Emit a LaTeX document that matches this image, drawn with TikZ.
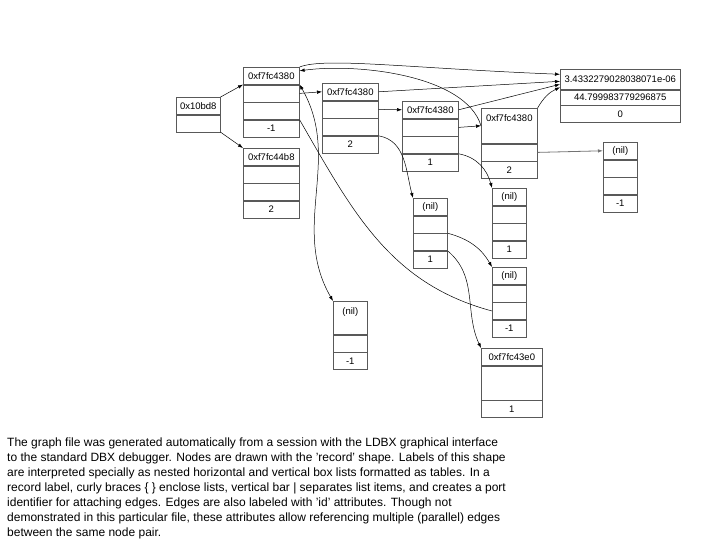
\documentclass[tikz,border=0pt]{standalone}
\usepackage{fontspec}
\setmainfont{Liberation Sans}
\usetikzlibrary{arrows.meta,positioning}

\begin{document}
\begin{tikzpicture}[
  x=1pt, y=-1pt,
  node distance=0pt,
  >={Latex[length=5pt,width=3.5pt]},
  cell/.style={draw=black!65, line width=0.6pt, inner sep=0pt, minimum height=17pt, font=\fontsize{9.5}{10}\selectfont},
  ptr/.style={cell, minimum width=56pt},
  nilc/.style={cell, minimum width=34pt},
  valc/.style={cell, minimum width=120pt},
  tall/.style={minimum height=#1, text height=12pt, text depth=#1-14pt},
  arrow/.style={->, line width=0.5pt},
  twoway/.style={<->, line width=0.5pt},
  link/.style={line width=0.5pt}
]
\useasboundingbox (0,0) rectangle (720,540);

% records
\node[cell, minimum width=44pt, anchor=north west] (a1) at (176,97) {0x10bd8};
\node[cell, minimum width=44pt, below=of a1] (a2) {};

\node[ptr, anchor=north west] (b1) at (243,67) {0xf7fc4380};
\node[ptr, below=of b1] (b2) {};
\node[ptr, below=of b2] (b3) {};
\node[ptr, below=of b3] (b4) {-1};

\node[ptr, anchor=north west] (c1) at (243,148) {0xf7fc44b8};
\node[ptr, below=of c1] (c2) {};
\node[ptr, below=of c2] (c3) {};
\node[ptr, below=of c3] (c4) {2};

\node[ptr, anchor=north west] (d1) at (322,83) {0xf7fc4380};
\node[ptr, below=of d1] (d2) {};
\node[ptr, below=of d2] (d3) {};
\node[ptr, below=of d3] (d4) {2};

\node[ptr, anchor=north west] (e1) at (402,101) {0xf7fc4380};
\node[ptr, below=of e1] (e2) {};
\node[ptr, below=of e2] (e3) {};
\node[ptr, below=of e3] (e4) {1};

\node[ptr, tall=35pt, anchor=north west] (f1) at (481,108) {0xf7fc4380};
\node[ptr, below=of f1] (f2) {};
\node[ptr, below=of f2] (f3) {2};

\node[valc, minimum height=20pt, anchor=north west] (g1) at (560,69) {3.4332279028038071e-06};
\node[valc, minimum height=15pt, below=of g1] (g2) {44.799983779296875};
\node[valc, below=of g2] (g3) {0};

\node[nilc, anchor=north west] (h1) at (603,142) {(nil)};
\node[nilc, below=of h1] (h2) {};
\node[nilc, below=of h2] (h3) {};
\node[nilc, below=of h3] (h4) {-1};

\node[nilc, anchor=north west] (i1) at (413,198) {(nil)};
\node[nilc, below=of i1] (i2) {};
\node[nilc, below=of i2] (i3) {};
\node[nilc, below=of i3] (i4) {1};

\node[nilc, anchor=north west] (j1) at (492,188) {(nil)};
\node[nilc, below=of j1] (j2) {};
\node[nilc, below=of j2] (j3) {};
\node[nilc, below=of j3] (j4) {1};

\node[nilc, anchor=north west] (k1) at (492,267) {(nil)};
\node[nilc, below=of k1] (k2) {};
\node[nilc, below=of k2] (k3) {};
\node[nilc, below=of k3] (k4) {-1};

\node[cell, minimum width=61pt, anchor=north west] (l1) at (481,348) {0xf7fc43e0};
\node[cell, minimum width=61pt, minimum height=34pt, below=of l1] (l2) {};
\node[cell, minimum width=61pt, below=of l2] (l3) {1};

\node[nilc, tall=33pt, anchor=north west] (m1) at (333,301) {(nil)};
\node[nilc, below=of m1] (m2) {};
\node[nilc, below=of m2] (m3) {-1};

% edges
\draw[arrow] (a1.north east) -- (b1.south west);
\draw[arrow] (a2.south east) -- (c1.north west);
\draw[arrow] (b2.east) -- (d1.west);
\draw[arrow] (d2.east) -- (e1.west);
\draw[arrow] (e2.east) -- (f1.west);
\draw[arrow] (b1.north east) .. controls +(25,-10) and +(-150,-6) .. ([yshift=5pt]g1.west);
\draw[arrow] (f1.west) .. controls +(-15,-50) and +(60,-8) .. ([yshift=5pt]b1.east);
\draw[arrow] (d1.east) -- ([yshift=-2pt]g1.west);
\draw[arrow] (e1.east) -- ([yshift=-5pt]g1.west);
\draw[arrow] (f1.north east) to[out=60,in=205] ([yshift=-8pt]g1.west);
\draw[arrow, draw=black!55, line width=0.8pt] (f2.east) -- (h1.west);
\draw[arrow] (d3.south east) to[out=-10,in=105] (i1.north west);
\draw[arrow] (e3.south east) to[out=-10,in=105] (j1.north west);
\draw[arrow] (i2.south east) to[out=-15,in=120] (k1.north west);
\draw[arrow] (i3.south east) to[out=-40,in=115] (l1.north west);
\draw[link] (b3.south east) to[out=-60,in=165] (k3.west);
\draw[twoway] (b2.north east) to[out=-60,in=120] (m1.north west);

% caption
\node[anchor=north west, inner sep=0pt, align=left, font=\fontsize{12}{15}\selectfont] (note) at (7,438)
  {The graph file was generated automatically from a session with the LDBX graphical interface\\
   to the standard DBX debugger. Nodes are drawn with the 'record' shape. Labels of this shape\\
   are interpreted specially as nested horizontal and vertical box lists formatted as tables. In a\\
   record label, curly braces \{ \} enclose lists, vertical bar | separates list items, and creates a port\\
   identifier for attaching edges. Edges are also labeled with 'id' attributes. Though not\\
   demonstrated in this particular file, these attributes allow referencing multiple (parallel) edges\\
   between the same node pair.};
\end{tikzpicture}
\end{document}
